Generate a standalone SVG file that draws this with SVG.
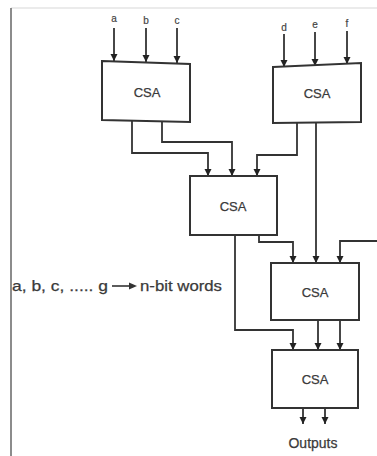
<svg xmlns="http://www.w3.org/2000/svg" width="377" height="456" viewBox="0 0 377 456">
  <style>
    .box { fill: #ffffff; stroke: #333333; stroke-width: 2; }
    .lbl { font-family: "Liberation Sans", Arial, sans-serif; font-size: 13px; fill: #3a3a3a; text-anchor: middle; stroke: #3a3a3a; stroke-width: 0.25; }
    .in { font-family: "Liberation Sans", Arial, sans-serif; font-size: 10px; fill: #444444; text-anchor: middle; stroke: #444444; stroke-width: 0.2; }
    .wire { fill: none; stroke: #333333; stroke-width: 1.8; marker-end: url(#arr); }
    .note { font-family: "Liberation Sans", Arial, sans-serif; font-size: 15px; fill: #3a3a3a; stroke: #3a3a3a; stroke-width: 0.25; }
  </style>
  <defs>
    <marker id="arr" viewBox="0 0 10 10" refX="10" refY="5" markerWidth="4" markerHeight="4" markerUnits="strokeWidth" orient="auto">
      <path d="M0,0 L10,5 L0,10 z" fill="#222222"/>
    </marker>
  </defs>
  <rect width="377" height="456" fill="#ffffff"/>

  <!-- page frame -->
  <line x1="11" y1="8" x2="377" y2="8" stroke="#e4e4e4" stroke-width="1.5"/>
  <line x1="11" y1="8" x2="11" y2="456" stroke="#666666" stroke-width="1.5"/>

  <!-- input labels -->
  <g id="inputs">
    <text class="in" x="114" y="22">a</text>
    <text class="in" x="146" y="24">b</text>
    <text class="in" x="177" y="24">c</text>
    <text class="in" x="284" y="31">d</text>
    <text class="in" x="315" y="28">e</text>
    <text class="in" x="347" y="27">f</text>
  </g>

  <g id="connectors">
    <!-- inputs into top adders -->
    <line class="wire" x1="114" y1="28" x2="114" y2="61"/>
    <line class="wire" x1="146" y1="28" x2="146" y2="62"/>
    <line class="wire" x1="177" y1="28" x2="177" y2="63"/>
    <line class="wire" x1="284" y1="34" x2="284" y2="67"/>
    <line class="wire" x1="315" y1="32" x2="315" y2="66"/>
    <line class="wire" x1="347" y1="31" x2="347" y2="64"/>
    <!-- top adders into middle adder -->
    <polyline class="wire" points="132,121 132,153 208,153 208,176"/>
    <polyline class="wire" points="162,122 162,142 232,142 232,176"/>
    <polyline class="wire" points="297,123 297,155 257,155 257,176"/>
    <!-- into adder 4 -->
    <line class="wire" x1="316" y1="123" x2="316" y2="263"/>
    <polyline class="wire" points="259,235 259,242 293,242 293,263"/>
    <polyline class="wire" points="377,241 340,241 340,263"/>
    <!-- into final adder -->
    <polyline class="wire" points="235,235 235,330 293,330 293,350"/>
    <line class="wire" x1="318" y1="320" x2="318" y2="350"/>
    <line class="wire" x1="340" y1="320" x2="340" y2="350"/>
    <!-- outputs -->
    <line class="wire" x1="303" y1="408" x2="303" y2="424"/>
    <line class="wire" x1="325" y1="408" x2="325" y2="424"/>
  </g>

  <g id="csa1">
    <polygon class="box" points="102,61 190,64 190,122 102,120"/>
    <text class="lbl" x="147" y="97">CSA</text>
  </g>
  <g id="csa2">
    <polygon class="box" points="273,67 361,63 361,122 273,123"/>
    <text class="lbl" x="317" y="98">CSA</text>
  </g>
  <g id="csa3">
    <rect class="box" x="190" y="176" width="87" height="59"/>
    <text class="lbl" x="233" y="211">CSA</text>
  </g>
  <g id="csa4">
    <rect class="box" x="271" y="263" width="88" height="57"/>
    <text class="lbl" x="315" y="297">CSA</text>
  </g>
  <g id="csa5">
    <rect class="box" x="272" y="350" width="86" height="58"/>
    <text class="lbl" x="315" y="384">CSA</text>
  </g>

  <g id="legend">
    <text class="note" x="12" y="291" textLength="96" lengthAdjust="spacingAndGlyphs">a, b, c, ..... g</text>
    <line x1="112" y1="286" x2="131" y2="286" stroke="#333333" stroke-width="1.6"/>
    <path d="M129,282.5 L137,286 L129,289.5 z" fill="#333333"/>
    <text class="note" x="140" y="291" textLength="82" lengthAdjust="spacingAndGlyphs">n-bit words</text>
  </g>

  <g id="outputs">
    <text class="lbl" x="313" y="448" style="font-size:14px">Outputs</text>
  </g>
</svg>
